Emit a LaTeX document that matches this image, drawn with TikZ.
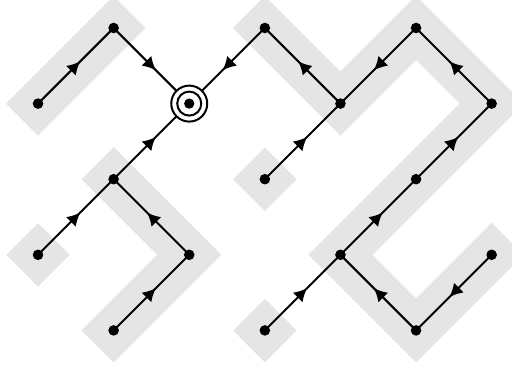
\documentclass[tikz,border=0pt]{standalone}
\usetikzlibrary{arrows.meta,decorations.markings}
\pgfdeclarelayer{bg}
\pgfdeclarelayer{edges}
\pgfsetlayers{bg,edges,main}
\tikzset{
  dot/.style={circle,fill=black,inner sep=0pt,minimum size=0.14cm},
  rootnode/.style={circle,draw=black,fill=white,line width=0.75pt,inner sep=0pt,minimum size=0.476cm},
  band/.style={draw=gray!20,line width=0.6cm,line cap=rect,line join=miter},
  bandfill/.style={fill=gray!20},
  edge/.style={line width=0.75pt,postaction={decorate},
    decoration={markings,mark=at position 0.56 with {\arrow{Latex[length=5pt,width=5.2pt]}}}}
}
\begin{document}
\begin{tikzpicture}
\useasboundingbox (-0.503,-4.458) rectangle (6.269,0.37);
% nodes
\node[dot] (A) at (0,-1) {};
\node[dot] (B) at (1,0) {};
\node[rootnode] (R) at (2,-1) {};
\draw[line width=0.75pt] (R.center) circle (0.159);
\fill (R.center) circle (0.068);
\node[dot] (C) at (1,-2) {};
\node[dot] (D) at (0,-3) {};
\node[dot] (E) at (2,-3) {};
\node[dot] (F) at (1,-4) {};
\node[dot] (G) at (3,0) {};
\node[dot] (H) at (4,-1) {};
\node[dot] (I) at (3,-2) {};
\node[dot] (J) at (5,0) {};
\node[dot] (K) at (6,-1) {};
\node[dot] (L) at (5,-2) {};
\node[dot] (M) at (4,-3) {};
\node[dot] (N) at (3,-4) {};
\node[dot] (O) at (5,-4) {};
\node[dot] (P) at (6,-3) {};
% bands
\begin{pgfonlayer}{bg}
\draw[band] (A.center) -- (B.center);
\draw[band] (C.center) -- (E.center) -- (F.center);
\draw[band] (G.center) -- (H.center) -- (J.center) -- (K.center) -- (L.center) -- (M.center) -- (O.center) -- (P.center);
\foreach \n in {D,I,N}{
  \fill[bandfill] (\n.center) +(0.42,0) -- +(0,0.42) -- +(-0.42,0) -- +(0,-0.42) -- cycle;
}
\end{pgfonlayer}
% edges
\begin{pgfonlayer}{edges}
\draw[edge] (A.center) -- (B.center);
\draw[edge] (B.center) -- (R.center);
\draw[edge] (C.center) -- (R.center);
\draw[edge] (D.center) -- (C.center);
\draw[edge] (E.center) -- (C.center);
\draw[edge] (F.center) -- (E.center);
\draw[edge] (G.center) -- (R.center);
\draw[edge] (H.center) -- (G.center);
\draw[edge] (I.center) -- (H.center);
\draw[edge] (J.center) -- (H.center);
\draw[edge] (K.center) -- (J.center);
\draw[edge] (L.center) -- (K.center);
\draw[edge] (M.center) -- (L.center);
\draw[edge] (N.center) -- (M.center);
\draw[edge] (O.center) -- (M.center);
\draw[edge] (P.center) -- (O.center);
\end{pgfonlayer}
\end{tikzpicture}
\end{document}
